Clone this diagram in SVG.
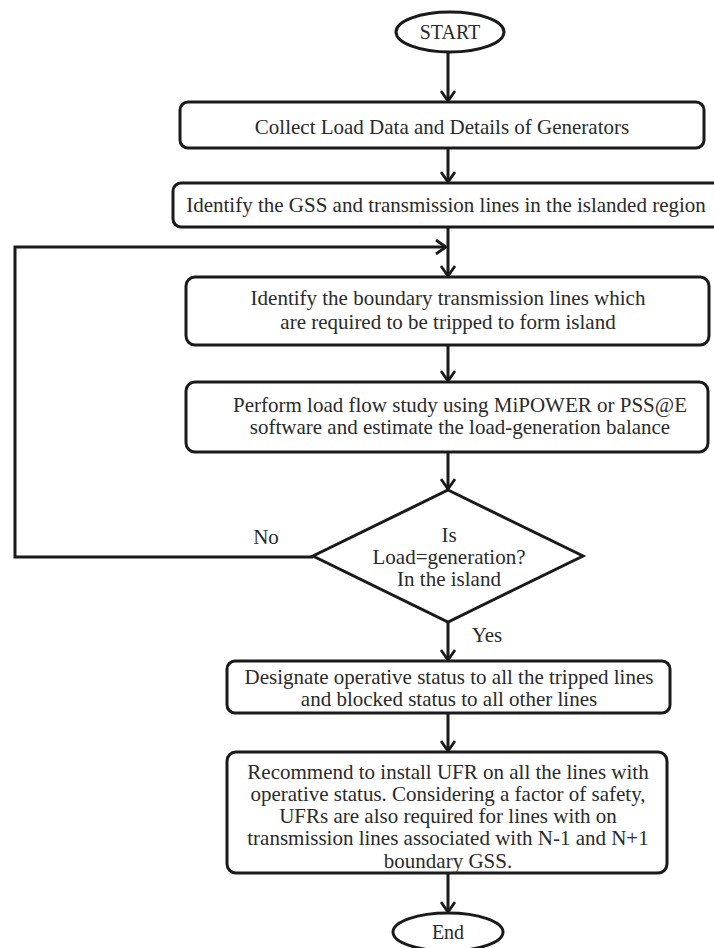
<svg xmlns="http://www.w3.org/2000/svg" width="714" height="948" viewBox="0 0 714 948">
<defs>
<style>
.box{fill:#fff;stroke:#1a1a1a;stroke-width:3}
.term{fill:#fff;stroke:#1a1a1a;stroke-width:3}
.t{font-family:'Liberation Serif','Noto Serif','DejaVu Serif',serif;font-size:21px;fill:#2a2a2a;text-anchor:middle}
.c{fill:none;stroke:#1a1a1a;stroke-width:3}
</style>
<marker id="ah" viewBox="0 0 12 16" refX="11" refY="8" markerWidth="12" markerHeight="16" markerUnits="userSpaceOnUse" orient="auto">
<path d="M1,1 L11,8 L1,15" fill="none" stroke="#1a1a1a" stroke-width="2.8"/>
</marker>
</defs>
<rect width="714" height="948" fill="#fff"/>
<g id="connectors">
<line class="c" x1="448" y1="52" x2="448" y2="101" marker-end="url(#ah)"/>
<line class="c" x1="448" y1="148" x2="448" y2="182" marker-end="url(#ah)"/>
<line class="c" x1="448" y1="227" x2="448" y2="276" marker-end="url(#ah)"/>
<polyline class="c" points="313,557 15,557 15,247 446,247" marker-end="url(#ah)"/>
<line class="c" x1="448" y1="345" x2="448" y2="381" marker-end="url(#ah)"/>
<line class="c" x1="448" y1="452" x2="448" y2="489" marker-end="url(#ah)"/>
<line class="c" x1="448" y1="622" x2="448" y2="660" marker-end="url(#ah)"/>
<line class="c" x1="448" y1="713" x2="448" y2="751" marker-end="url(#ah)"/>
<line class="c" x1="448" y1="873" x2="448" y2="912" marker-end="url(#ah)"/>
<text class="t" x="266" y="544" font-family="Liberation Serif, serif">No</text>
<text class="t" x="487" y="642" font-family="Liberation Serif, serif">Yes</text>
</g>
<g id="start">
<ellipse class="term" cx="450" cy="32" rx="54" ry="20"/>
<text class="t" x="450" y="39" style="font-size:20px">START</text>
</g>
<g id="collect">
<rect class="box" x="180" y="102" width="524" height="46" rx="8"/>
<text class="t" x="442" y="134">Collect Load Data and Details of Generators</text>
</g>
<g id="identify-gss">
<rect class="box" x="173" y="183" width="560" height="44" rx="8"/>
<text class="t" x="446" y="212">Identify the GSS and transmission lines in the islanded region</text>
</g>
<g id="identify-boundary">
<rect class="box" x="186" y="277" width="523" height="68" rx="9"/>
<text class="t" x="448" y="305">Identify the boundary transmission lines which</text>
<text class="t" x="448" y="329">are required to be tripped to form island</text>
</g>
<g id="load-flow">
<rect class="box" x="186" y="382" width="522" height="70" rx="9"/>
<text class="t" x="460" y="412">Perform load flow study using MiPOWER or PSS@E</text>
<text class="t" x="460" y="434">software and estimate the load-generation balance</text>
</g>
<g id="decision">
<polygon class="box" points="448,490 583,556 448,622 313,556"/>
<text class="t" x="449" y="542">Is</text>
<text class="t" x="449" y="564">Load=generation?</text>
<text class="t" x="449" y="586">In the island</text>
</g>
<g id="designate">
<rect class="box" x="227" y="661" width="443" height="52" rx="8"/>
<text class="t" x="449" y="684">Designate operative status to all the tripped lines</text>
<text class="t" x="449" y="706">and blocked status to all other lines</text>
</g>
<g id="recommend">
<rect class="box" x="227" y="752" width="440" height="121" rx="9"/>
<text class="t" x="448" y="779">Recommend to install UFR on all the lines with</text>
<text class="t" x="448" y="801">operative status. Considering a factor of safety,</text>
<text class="t" x="448" y="823">UFRs are also required for lines with on</text>
<text class="t" x="448" y="845">transmission lines associated with N-1 and N+1</text>
<text class="t" x="448" y="868">boundary GSS.</text>
</g>
<g id="end">
<ellipse class="term" cx="448" cy="932" rx="55" ry="19"/>
<text class="t" x="448" y="939" style="font-size:20px">End</text>
</g>
</svg>
